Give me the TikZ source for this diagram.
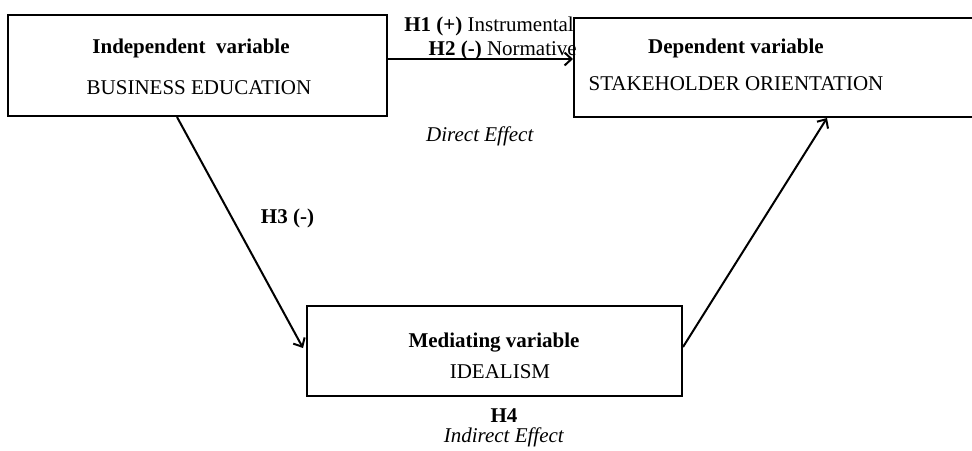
\documentclass[tikz,border=0pt]{standalone}
\usepackage{fontspec}
\setmainfont{Liberation Serif}
\usetikzlibrary{arrows.meta}

\begin{document}
\begin{tikzpicture}[x=1pt, y=-1pt, >={Straight Barb[length=7pt, width=13pt]}]
        \tikzstyle{varbox} = [rectangle, draw, line width=2pt, inner sep=0pt]
        \tikzstyle{txt} = [inner sep=0pt, anchor=base, font=\fontsize{21}{25}\selectfont]
        \tikzstyle{link} = [->, line width=2pt]

\clip (0,0) rectangle (972,450);

\node[varbox, minimum width=379pt, minimum height=101pt] (business) at (197.5,65.5) {};
        \node[varbox, minimum width=416pt, minimum height=99pt] (stake) at (782,67.5) {};
        \node[varbox, minimum width=375pt, minimum height=90pt] (ideal) at (494.5,351) {};

\node[txt] (indepTitle) at (191,53) {\textbf{Independent~ variable}};
        \node[txt] (indepName) at (199,94) {BUSINESS EDUCATION};
        \node[txt] (depTitle) at (736,53) {\textbf{Dependent variable}};
        \node[txt] (depName) at (736,90) {STAKEHOLDER ORIENTATION};
        \node[txt] (medTitle) at (494,347) {\textbf{Mediating variable}};
        \node[txt] (medName) at (500,378) {IDEALISM};

\node[txt, anchor=base east] (hypOne) at (574,31) {\textbf{H1 (+)} Instrumental};
        \node[txt, anchor=base east] (hypTwo) at (577,55) {\textbf{H2 (-)} Normative};
        \node[txt] (direct) at (480,141) {\textit{Direct Effect}};
        \node[txt] (hypThree) at (287.5,223) {\textbf{H3 (-)}};
        \node[txt] (hypFour) at (504,422) {\textbf{H4}};
        \node[txt] (indirect) at (504,442) {\textit{Indirect Effect}};

\draw[link] ([yshift=6.5pt]business.east) -- ([yshift=8.5pt]stake.west);
        \draw[link] ([xshift=-20.5pt]business.south) -- ([xshift=-3pt, yshift=3pt]ideal.west);
        \draw[link] ([yshift=4pt]ideal.east) -- ([xshift=45pt]stake.south);

    \end{tikzpicture}
\end{document}
